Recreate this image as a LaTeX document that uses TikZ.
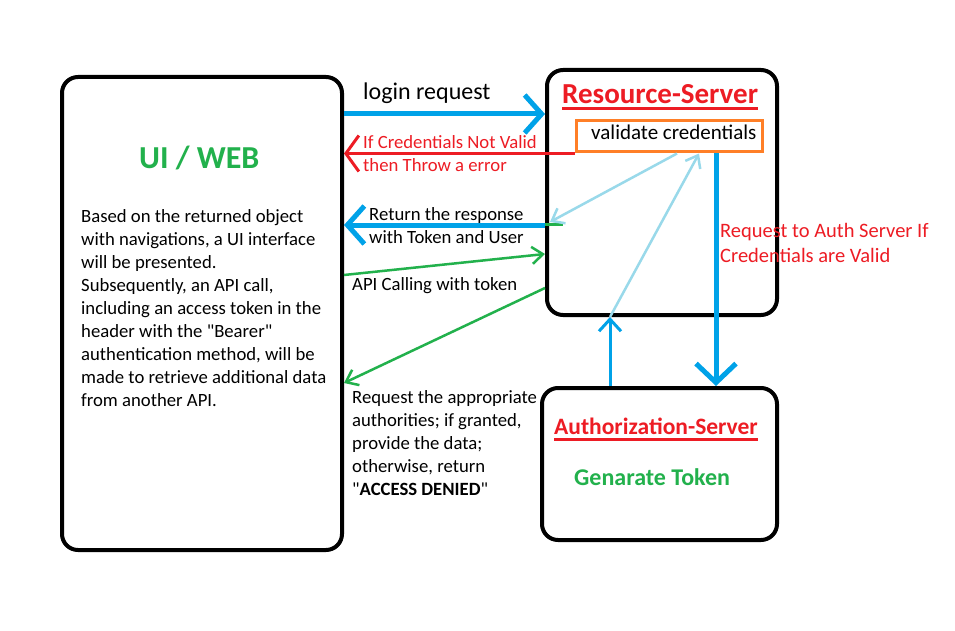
\documentclass[tikz,border=0pt]{standalone}
\usepackage{fontspec}
\setmainfont{Carlito}[Ligatures=TeXOff]
\usetikzlibrary{arrows.meta,positioning}
\definecolor{paintblue}{RGB}{0,162,232}
\definecolor{paleblue}{RGB}{153,217,234}
\definecolor{paintred}{RGB}{237,28,36}
\definecolor{paintgreen}{RGB}{34,177,76}
\definecolor{paintorange}{RGB}{255,127,39}

\begin{document}
\begin{tikzpicture}[x=1pt,y=-1pt,
    box/.style={draw,line width=4pt,rounded corners=16pt,inner sep=0pt},
    txt/.style={font=\fontsize{18.7}{23}\selectfont,inner sep=0pt,anchor=base west,align=left},
    title/.style={font=\fontsize{#1}{#1}\selectfont\bfseries,inner sep=0pt,anchor=base west},
    bigbarb/.style={-{Straight Barb[length=17pt,width=38pt]}},
    smallbarb/.style={-{Straight Barb[length=11pt,width=17pt]}}]
    \fill[white] (0,0) rectangle (955,631);
    \useasboundingbox (0,0) rectangle (955,631);
    \node[box,minimum width=280pt,minimum height=473pt] (ui) at (202,313.5) {};
    \node[box,minimum width=230pt,minimum height=245pt] (rs) at (662,192.5) {};
    \node[box,minimum width=235pt,minimum height=152pt] (as) at (659.5,464) {};
    \node[draw=paintorange,line width=3pt,minimum width=186pt,minimum height=31pt,inner sep=0pt] (val) at (669,136.5) {};
    \node[title=32,text=paintgreen] (uititle) at (139,168) {UI / WEB};
    \node[txt] (uitext) at (81,406) {Based on the returned object\\with navigations, a UI interface\\will be presented.\\Subsequently, an API call,\\including an access token in the\\header with the "Bearer"\\authentication method, will be\\made to retrieve additional data\\from another API.};
    \node[txt,font=\fontsize{24}{28}\selectfont] (login) at (363,100) {login request};
    \node[title=29,text=paintred] (rstitle) at (562,104) {Resource-Server};
    \draw[paintred,line width=3pt] ([yshift=-5pt]rstitle.base west) -- ([yshift=-5pt]rstitle.base east);
    \node[txt,font=\fontsize{21}{25}\selectfont] (valtext) at (591,140) {validate credentials};
    \node[txt,text=paintred] (invalid) at (363,172) {If Credentials Not Valid\\then Throw a error};
    \node[txt] (response) at (369,243) {Return the response\\with Token and User};
    \node[txt] (apicall) at (352,290) {API Calling with token};
    \node[txt] (authorities) at (352,495) {Request the appropriate\\authorities; if granted,\\provide the data;\\otherwise, return\\"\textbf{ACCESS DENIED}"};
    \node[txt,font=\fontsize{20.5}{25}\selectfont,text=paintred] (toauth) at (720,262) {Request to Auth Server If\\Credentials are Valid};
    \node[title=23.5,text=paintred] (astitle) at (554,434) {Authorization-Server};
    \draw[paintred,line width=3pt] ([yshift=-5pt]astitle.base west) -- ([yshift=-5pt]astitle.base east);
    \node[title=24,text=paintgreen] (token) at (574,485) {Genarate Token};
    \draw[bigbarb,paintblue,line width=5pt] (ui.east |- 0,114) -- (rs.west |- 0,114);
    \draw[-{Straight Barb[length=13pt,width=36pt]},paintred,line width=3pt] (val.south west) -- (ui.east |- val.south west);
    \draw[bigbarb,paintblue,line width=5pt] (rs.west |- 0,225) -- (ui.east |- 0,225);
    \draw[paintgreen,line width=3pt] (rs.west |- 0,224) -- ([xshift=18pt]rs.west |- 0,224);
    \draw[smallbarb,paintgreen,line width=2.5pt] (ui.east |- 0,275) -- (rs.west |- 0,254);
    \draw[smallbarb,paintgreen,line width=2.5pt] (rs.west |- 0,288) -- (ui.east |- 0,383);
    \draw[smallbarb,paleblue,line width=2.5pt] (rs.south -| 610,0) -- (val.south -| 699,0);
    \draw[smallbarb,paleblue,line width=2.5pt] (val.south -| 677,0) -- ([xshift=5pt]rs.west |- 0,222);
    \draw[-{Straight Barb[length=12pt,width=22pt]},paintblue,line width=3pt] (as.north -| 610,0) -- (rs.south -| 610,0);
    \draw[-{Straight Barb[length=19pt,width=40pt]},paintblue,line width=5pt] (val.south -| 716,0) -- (as.north -| 716,0);
\end{tikzpicture}
\end{document}
